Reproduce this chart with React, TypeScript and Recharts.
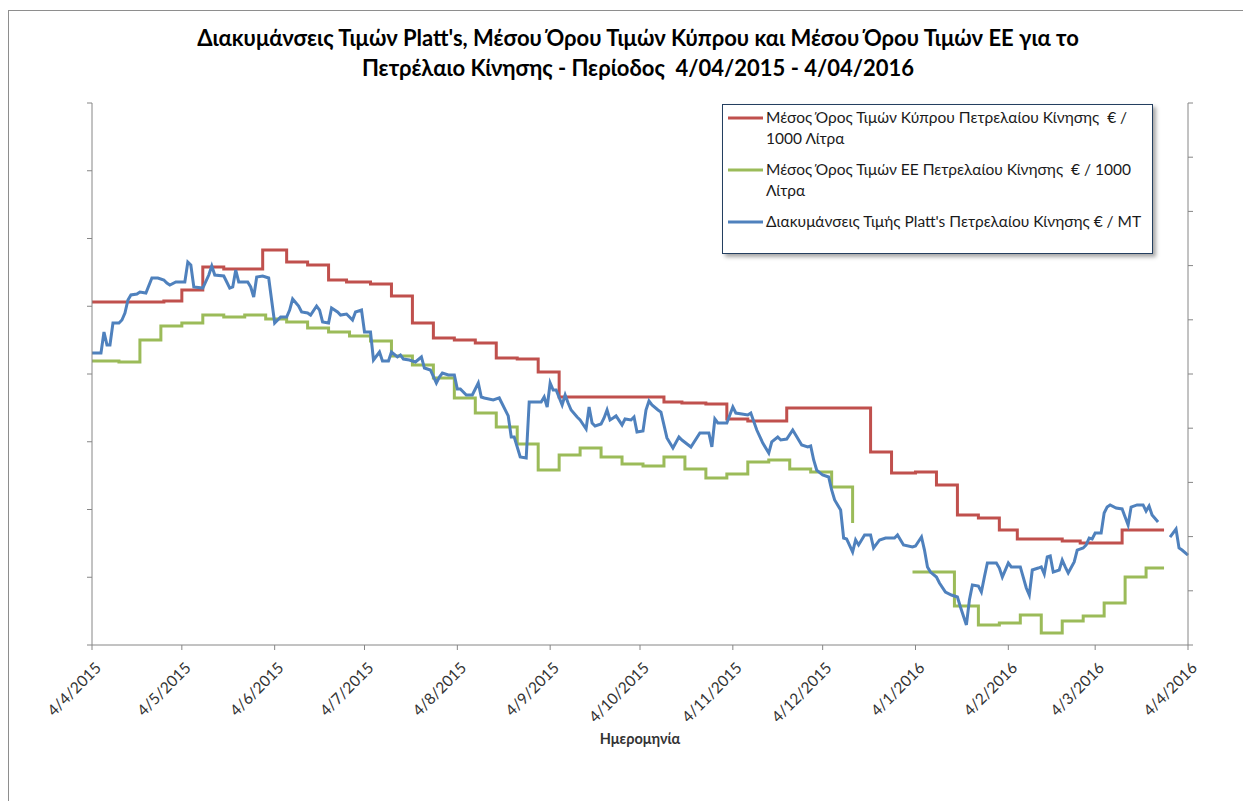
import { Label, Legend, Line, LineChart, XAxis, YAxis } from "recharts";

const FONT = "Lato, 'Liberation Sans', sans-serif";
const AXIS = "#868686";

// monthly ticks, days counted from 4/4/2015
const tickDays = [0, 30, 61, 91, 122, 153, 183, 214, 244, 275, 306, 335, 366];
const tickLabels = [
  "4/4/2015", "4/5/2015", "4/6/2015", "4/7/2015", "4/8/2015", "4/9/2015", "4/10/2015",
  "4/11/2015", "4/12/2015", "4/1/2016", "4/2/2016", "4/3/2016", "4/4/2016",
];

// Μέσος Όρος Τιμών Κύπρου (€ / 1000 Λίτρα), weekly steps
const cyprusDays = [0, 24, 30, 37, 44, 57, 65, 72, 79, 85, 93, 100, 107, 114, 121, 128, 135, 142, 149, 156, 191, 197, 205, 212, 219, 232, 260, 267, 275, 282, 289, 296, 303, 309, 324, 330, 344, 358];
const cyprusPrices = [553.1, 553.9, 562.0, 579.0, 577.5, 591.5, 582.7, 580.4, 569.4, 567.9, 566.4, 557.6, 537.6, 526.6, 525.1, 522.9, 511.8, 511.1, 501.5, 483.0, 479.3, 478.6, 477.9, 466.8, 465.3, 474.9, 442.4, 426.9, 427.7, 418.1, 395.9, 393.7, 384.9, 378.2, 376.8, 375.3, 384.9, 384.9];

// Μέσος Όρος Τιμών ΕΕ (€ / 1000 Λίτρα), weekly steps, gap over new year
const euDays = [0, 9, 16, 23, 30, 37, 44, 51, 58, 65, 72, 79, 86, 93, 100, 107, 114, 121, 128, 135, 142, 149, 156, 163, 170, 177, 184, 191, 198, 205, 212, 219, 226, 233, 240, 247, 254, 264, 274, 288, 296, 303, 310, 317, 324, 331, 338, 345, 352, 358];
const euPrices = [509.6, 508.9, 525.1, 535.4, 537.6, 543.5, 542.1, 543.5, 540.6, 538.4, 533.9, 531.0, 528.0, 524.4, 513.3, 506.6, 497.0, 482.3, 471.2, 460.9, 448.3, 429.2, 440.2, 445.4, 438.7, 433.6, 432.1, 438.7, 429.9, 423.2, 426.2, 435.1, 436.5, 429.9, 427.7, 416.6, 390.0, null, 353.9, 328.8, 314.8, 316.2, 322.1, 308.9, 317.7, 321.4, 331.0, 350.2, 356.8, 356.8];

// Platt's (€ / MT), daily
const plattsDays = [
  0, 3, 4, 5, 6, 7, 9, 10, 11, 12, 13, 15, 16, 18, 20, 22, 24, 25, 26, 28,
  31, 32, 33, 34, 37, 39, 40, 41, 44, 45, 46, 47, 48, 49, 52, 53, 54, 55, 57, 59,
  61, 63, 65, 66, 67, 69, 70, 72, 73, 75, 76, 77, 79, 80, 82, 83, 85, 87, 88, 90,
  91, 93, 94, 96, 97, 99, 100, 102, 103, 104, 106, 108, 110, 111, 113, 115, 116, 117, 119, 121,
  122, 123, 125, 127, 129, 130, 131, 134, 136, 139, 140, 141, 143, 145, 146, 150, 151, 152, 153, 154,
  155, 157, 158, 159, 160, 162, 163, 165, 166, 167, 168, 170, 171, 172, 173, 174, 175, 177, 178, 180,
  181, 182, 184, 185, 186, 187, 189, 190, 192, 194, 196, 197, 200, 203, 206, 207, 208, 209, 212, 214,
  215, 217, 219, 220, 222, 224, 226, 227, 229, 230, 232, 234, 235, 237, 239, 240, 241, 242, 244, 246,
  247, 248, 250, 251, 252, 254, 255, 256, 258, 260, 261, 263, 265, 268, 269, 271, 274, 275, 277, 278,
  279, 280, 282, 283, 285, 287, 289, 290, 292, 293, 294, 296, 297, 298, 299, 302, 303, 304, 306, 307,
  308, 310, 312, 313, 314, 316, 317, 318, 319, 320, 321, 323, 324, 325, 326, 328, 329, 331, 332, 333,
  334, 335, 337, 338, 339, 340, 342, 344, 345, 346, 347, 349, 351, 352, 353, 354, 356, 358, 360, 362,
  363, 364, 366,
];
const plattsPrices = [
  469.4, 469.4, 488.7, 476.8, 476.8, 497.0, 497.0, 499.8, 506.3, 518.3, 522.9, 523.8, 525.6, 524.7, 538.6, 538.6, 536.7, 533.9, 532.1, 534.9,
  534.9, 553.3, 550.6, 530.3, 529.3, 541.3, 549.6, 541.3, 540.4, 534.9, 529.3, 530.3, 545.9, 534.9, 534.9, 530.3, 521.0, 539.5, 540.4, 538.6,
  497.0, 502.6, 502.6, 509.0, 519.2, 512.7, 507.2, 506.3, 504.4, 512.7, 509.0, 498.0, 497.0, 510.9, 507.2, 504.4, 505.3, 499.8, 507.2, 509.0,
  488.7, 488.7, 462.9, 470.3, 462.0, 462.0, 470.3, 465.7, 467.5, 463.8, 462.9, 461.1, 465.7, 455.5, 453.7, 441.7, 447.2, 450.9, 449.1, 449.1,
  436.2, 436.2, 430.6, 430.6, 441.7, 428.8, 427.9, 426.0, 427.9, 411.3, 391.9, 391.9, 373.4, 372.5, 424.2, 424.2, 428.8, 419.6, 441.7, 435.2,
  435.2, 421.4, 430.6, 423.2, 416.8, 410.3, 407.6, 399.3, 419.6, 404.8, 402.0, 403.9, 409.4, 416.8, 407.6, 409.4, 411.3, 403.0, 408.5, 407.6,
  410.3, 396.5, 397.4, 416.8, 425.1, 421.4, 416.8, 414.9, 391.0, 381.7, 391.9, 389.1, 382.7, 395.6, 395.6, 382.7, 408.5, 404.8, 404.8, 419.6,
  414.0, 413.1, 412.2, 414.0, 398.3, 386.3, 377.1, 387.3, 391.9, 389.1, 390.0, 398.3, 393.7, 384.5, 382.7, 383.6, 370.7, 361.4, 356.8, 355.0,
  343.0, 333.8, 324.5, 298.7, 297.8, 285.8, 296.9, 292.3, 301.5, 301.5, 289.5, 296.9, 298.7, 298.7, 301.5, 292.3, 290.4, 291.3, 299.6, 287.6,
  272.0, 267.3, 262.7, 257.2, 248.9, 246.1, 244.3, 235.1, 218.5, 241.5, 255.4, 254.4, 248.9, 262.7, 275.6, 275.6, 271.0, 262.7, 275.6, 272.0,
  272.0, 272.0, 252.6, 246.1, 269.2, 271.0, 272.0, 265.5, 281.2, 282.1, 267.3, 269.2, 278.4, 272.0, 266.4, 276.6, 287.6, 289.5, 292.3, 298.7,
  297.8, 303.3, 303.3, 321.8, 327.3, 329.2, 326.4, 325.5, 318.1, 310.7, 327.3, 329.2, 329.2, 323.6, 328.2, 319.9, 313.5, null, 299.6, 307.0,
  289.5, 287.6, 283.0,
];

const leftTicks = [300, 350, 400, 450, 500, 550, 600, 650, 700];
const rightTicks = [200, 250, 300, 350, 400, 450, 500, 550, 600, 650, 700];

const toPoints = (days: number[], values: (number | null)[]) =>
  days.map((day, i) => ({ day, value: values[i] }));

const cyprusData = toPoints(cyprusDays, cyprusPrices);
const euData = toPoints(euDays, euPrices);
const plattsData = toPoints(plattsDays, plattsPrices);

const legendItems = [
  { color: "#C0504D", lines: ["Μέσος Όρος Τιμών Κύπρου Πετρελαίου Κίνησης  € /", "1000 Λίτρα"] },
  { color: "#9BBB59", lines: ["Μέσος Όρος Τιμών ΕΕ Πετρελαίου Κίνησης  € / 1000", "Λίτρα"] },
  { color: "#4F81BD", lines: ["Διακυμάνσεις Τιμής Platt's Πετρελαίου Κίνησης € / MT"] },
];

function NoTick() {
  return <g />;
}

function DateTick(props: any) {
  const { x, y, payload } = props;
  const label = tickLabels[tickDays.indexOf(payload.value)];
  const ax = x + 10;
  const ay = y + 17;
  return (
    <text
      x={ax}
      y={ay}
      transform={`rotate(-45, ${ax}, ${ay})`}
      textAnchor="end"
      fontSize={15.5}
      fontFamily={FONT}
      fill="#333"
    >
      {label}
    </text>
  );
}

function LegendBox() {
  return (
    <div
      style={{
        width: 431,
        height: 150,
        boxSizing: "border-box",
        border: "1.5px solid #243F60",
        background: "#fff",
        boxShadow: "3px 3px 4px rgba(0,0,0,0.35)",
        padding: "2px 0 0 5px",
        fontFamily: FONT,
        fontSize: 15.5,
        color: "#1a1a1a",
      }}
    >
      {legendItems.map((item) => (
        <div key={item.color} style={{ display: "flex", marginBottom: 10 }}>
          <svg width={38} height={21} style={{ flex: "none" }}>
            <line x1={0} y1={11} x2={35} y2={11} stroke={item.color} strokeWidth={3} />
          </svg>
          <div>
            {item.lines.map((l) => (
              <div key={l} style={{ lineHeight: "21px", whiteSpace: "pre" }}>
                {l}
              </div>
            ))}
          </div>
        </div>
      ))}
    </div>
  );
}

export default function App() {
  return (
    <div
      style={{
        position: "absolute",
        left: 0,
        top: 0,
        width: 1243,
        height: 801,
        overflow: "hidden",
        background: "#fff",
        fontFamily: FONT,
      }}
    >
      <div
        style={{
          position: "absolute",
          left: 8,
          top: 10,
          width: 1400,
          height: 1000,
          border: "1px solid #8e8e8e",
        }}
      />
      <div
        style={{
          position: "absolute",
          left: 0,
          width: 1276,
          top: 23,
          textAlign: "center",
          fontWeight: 700,
          fontSize: 22,
          lineHeight: "30px",
          color: "#000",
        }}
      >
        <div>Διακυμάνσεις Τιμών Platt's, Μέσου Όρου Τιμών Κύπρου και Μέσου Όρου Τιμών ΕΕ για το</div>
        <div>Πετρέλαιο Κίνησης - Περίοδος &nbsp;4/04/2015 - 4/04/2016</div>
      </div>
      <div style={{ position: "absolute", left: 0, top: 0 }}>
        <LineChart width={1243} height={801} margin={{ top: 103, right: 50, bottom: 96, left: 87 }}>
          <XAxis
            dataKey="day"
            type="number"
            domain={[0, 366]}
            ticks={tickDays}
            interval={0}
            height={60}
            tick={DateTick}
            tickSize={5}
            stroke={AXIS}
            allowDuplicatedCategory={false}
          >
            <Label
              value="Ημερομηνία"
              position="bottom"
              offset={29}
              style={{ fontFamily: FONT, fontWeight: 700, fontSize: 14.5, fill: "#333" }}
            />
          </XAxis>
          <YAxis
            yAxisId="left"
            domain={[300, 700]}
            ticks={leftTicks}
            width={5}
            tick={NoTick}
            tickSize={5}
            stroke={AXIS}
          />
          <YAxis
            yAxisId="right"
            orientation="right"
            domain={[200, 700]}
            ticks={rightTicks}
            width={5}
            tick={NoTick}
            tickSize={5}
            stroke={AXIS}
          />
          <Legend
            layout="vertical"
            align="center"
            verticalAlign="middle"
            wrapperStyle={{ left: 722, top: 104, width: 431, height: 150 }}
            content={LegendBox}
          />
          <Line
            yAxisId="left"
            data={cyprusData}
            dataKey="value"
            name="Μέσος Όρος Τιμών Κύπρου"
            type="stepAfter"
            stroke="#C0504D"
            strokeWidth={3}
            dot={false}
            activeDot={false}
            isAnimationActive={false}
          />
          <Line
            yAxisId="left"
            data={euData}
            dataKey="value"
            name="Μέσος Όρος Τιμών ΕΕ"
            type="stepAfter"
            stroke="#9BBB59"
            strokeWidth={3}
            dot={false}
            activeDot={false}
            isAnimationActive={false}
          />
          <Line
            yAxisId="right"
            data={plattsData}
            dataKey="value"
            name="Platt's"
            type="linear"
            stroke="#4F81BD"
            strokeWidth={3}
            dot={false}
            activeDot={false}
            isAnimationActive={false}
          />
        </LineChart>
      </div>
    </div>
  );
}
